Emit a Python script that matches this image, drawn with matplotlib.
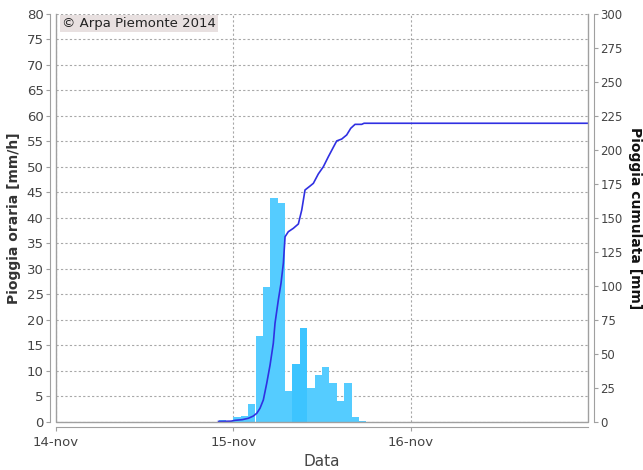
import matplotlib
matplotlib.use("Agg")
import matplotlib.pyplot as plt
import matplotlib.dates as mdates
import numpy as np
import pandas as pd

# ---- data ----
bar_start = ["2014-11-14 22:00", "2014-11-14 23:00", "2014-11-15 00:00", "2014-11-15 01:00",
             "2014-11-15 02:00", "2014-11-15 03:00", "2014-11-15 04:00", "2014-11-15 05:00",
             "2014-11-15 06:00", "2014-11-15 07:00", "2014-11-15 08:00", "2014-11-15 09:00",
             "2014-11-15 10:00", "2014-11-15 11:00", "2014-11-15 12:00", "2014-11-15 13:00",
             "2014-11-15 14:00", "2014-11-15 15:00", "2014-11-15 16:00", "2014-11-15 17:00"]
hourly_rain = [0.4, 0.1, 1.0, 1.2, 3.4, 16.9, 26.5, 43.9, 42.9, 6.1,
               11.4, 18.4, 6.7, 9.2, 10.7, 7.5, 4.1, 7.5, 1.0, 0.1]

# cumulative line: hours from 15-nov 00:00 and cumulated mm
cum_hours = [-2.0, -0.3, 0.23, 1.2, 2.03, 2.71, 3.17, 3.61, 4.06, 4.52, 4.97, 5.41, 5.64,
             6.09, 6.45, 6.77, 7.0, 7.44, 8.12, 8.8, 9.26, 9.7, 10.38, 10.83, 11.5,
             12.18, 12.86, 13.53, 13.99, 14.67, 15.34, 15.89, 16.47, 17.37, 17.69, 48.0]
cum_mm = [0.2, 0.4, 1.0, 1.5, 2.5, 4.2, 6.2, 9.9, 16.0, 28.3, 41.7, 57.7, 72.4,
          89.6, 101.8, 116.6, 136.1, 139.8, 142.3, 145.5, 155.8, 170.5, 173.4, 175.4, 182.3,
          187.6, 195.0, 201.9, 206.6, 208.0, 211.0, 215.9, 218.8, 218.8, 219.6, 219.6]

x_ticks = ["2014-11-14", "2014-11-15", "2014-11-16"]
x_ticklabels = ["14-nov", "15-nov", "16-nov"]

# ---- figure ----
W, H = 643, 470
fig = plt.figure(figsize=(W / 100, H / 100), dpi=100)
L, R, T, B = 56, 588, 14, 421.7
ax = fig.add_axes([L / W, 1 - B / H, (R - L) / W, (B - T) / H])
ax2 = ax.twinx()

starts = mdates.date2num(pd.to_datetime(bar_start))
width = 1 / 24
colors = ["#55CCFF"] * len(hourly_rain)
colors[10] = "#3DC4FF"
colors[11] = "#3DC4FF"
ax.bar(starts, hourly_rain, width=width, align="edge", color=colors,
       edgecolor="none", linewidth=0, zorder=2)

base = mdates.date2num(pd.Timestamp("2014-11-15"))
cx = base + np.array(cum_hours) / 24
ax2.plot(cx, cum_mm, color="#3030E2", lw=1.2, zorder=3)

x0 = mdates.date2num(pd.Timestamp("2014-11-14"))
x1 = mdates.date2num(pd.Timestamp("2014-11-17"))
ax.set_xlim(x0, x1)
ax.set_ylim(0, 80)
ax2.set_ylim(0, 300)
ax.set_yticks(np.arange(0, 81, 5))
ax2.set_yticks(np.arange(0, 301, 25))
ax.set_xticks(mdates.date2num(pd.to_datetime(x_ticks)))
ax.set_xticklabels(x_ticklabels)

ax.set_zorder(ax2.get_zorder() - 1)
ax.patch.set_visible(True)
ax.patch.set_facecolor("white")
ax2.patch.set_visible(False)

grid_kw = dict(color="#A8A8A8", lw=0.8, ls=(0, (2, 2)))
ax.grid(True, axis="both", **grid_kw, zorder=0)
ax.set_axisbelow(True)

gray = "#A0A0A0"
for a in (ax, ax2):
    for s in a.spines.values():
        s.set_visible(False)
# plot border (left, bottom, right)
ax2.plot([0, 0, 1, 1], [1, 0, 0, 1], transform=ax2.transAxes, color=gray, lw=1.0,
         zorder=5, clip_on=False)

# offset axis lines
ax.spines["left"].set_visible(True)
ax.spines["left"].set_position(("outward", 4))
ax.spines["left"].set_color(gray)
ax.spines["bottom"].set_visible(True)
ax.spines["bottom"].set_position(("outward", 4))
ax.spines["bottom"].set_color(gray)
ax2.spines["right"].set_visible(True)
ax2.spines["right"].set_position(("outward", 4))
ax2.spines["right"].set_color(gray)

tc = "#444444"
ax.tick_params(axis="y", labelsize=9.5, colors=tc, length=3, color=gray, pad=2)
ax.tick_params(axis="x", labelsize=9.5, colors=tc, length=3, color=gray, pad=3)
ax2.tick_params(axis="y", labelsize=8.5, colors=tc, length=3, color=gray, pad=2)

ax.set_ylabel("Pioggia oraria [mm/h]", fontsize=10, fontweight="bold", color="#333333", labelpad=4)
ax2.set_ylabel("Pioggia cumulata [mm]", fontsize=10, fontweight="bold", color="#111111",
               rotation=-90, labelpad=14)
ax.set_xlabel("Data", fontsize=11, color="#444444", labelpad=4)

ax.text(0.012, 0.993, "\u00a9 Arpa Piemonte 2014", transform=ax.transAxes, ha="left", va="top",
        fontsize=9.5, color="#222222", zorder=10,
        bbox=dict(boxstyle="square,pad=0.15", facecolor="#E8E0E0", edgecolor="none"))

fig.savefig("out.png", dpi=100)
